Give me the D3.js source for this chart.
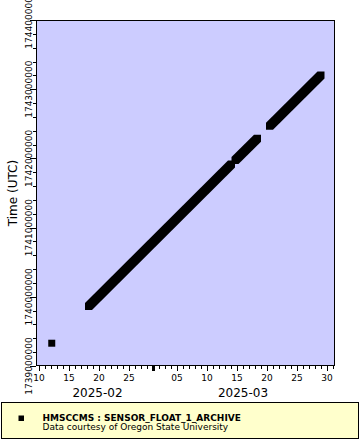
<!DOCTYPE html>
<html>
<head>
<meta charset="utf-8">
<script src="https://cdn.jsdelivr.net/npm/d3@7"></script>
<style>
  html, body { margin: 0; padding: 0; background: #ffffff; }
  svg { display: block; }
  text { font-family: "DejaVu Sans", sans-serif; }
</style>
</head>
<body>
<svg id="chart" width="360" height="440"></svg>
<script>
// ---- data ----
// runs of consecutive records (start and end time, UTC); y value equals the record time
const runStart = ["2025-02-12T03:00:00Z", "2025-02-18T06:00:00Z", "2025-03-14T16:00:00Z", "2025-03-20T10:00:00Z"];
const runEnd   = ["2025-02-12T03:00:00Z", "2025-03-14T02:00:00Z", "2025-03-18T10:00:00Z", "2025-03-29T00:00:00Z"];
const xDomain = ["2025-02-09T12:00:00Z", "2025-03-31T08:00:00Z"];
const yDomain = [1739000000, 1744000000];
const yMajorStep = 1000000;
const yMinorStep = 200000;
const monthLabels = ["2025-02", "2025-03"];
const monthLabelAt = ["2025-02-19T18:00:00Z", "2025-03-16T00:00:00Z"];
const yTitle = "Time (UTC)";
const legendTitle = "HMSCCMS : SENSOR_FLOAT_1_ARCHIVE";
const legendNote = "Data courtesy of Oregon State University";

// ---- layout ----
const W = 360, H = 440;
const plot = { left: 36, right: 335, top: 20, bottom: 366 };
const marker = 7;

const svg = d3.select("#chart");
svg.append("rect").attr("width", W).attr("height", H).attr("fill", "#ffffff");

const x = d3.scaleUtc().domain(xDomain.map(d => new Date(d))).range([plot.left, plot.right]);
const y = d3.scaleLinear().domain(yDomain).range([plot.bottom, plot.top]);

// plot background
svg.append("rect")
  .attr("x", plot.left).attr("y", plot.top)
  .attr("width", plot.right - plot.left).attr("height", plot.bottom - plot.top)
  .attr("fill", "#ccccff");

// data runs: square markers swept along each run
const clip = svg.append("clipPath").attr("id", "pc").append("rect")
  .attr("x", plot.left).attr("y", plot.top)
  .attr("width", plot.right - plot.left).attr("height", plot.bottom - plot.top);

const runs = runStart.map((s, i) => ({ t0: new Date(s), t1: new Date(runEnd[i]) }));
const h = marker / 2;
svg.append("g").attr("clip-path", "url(#pc)")
  .selectAll("polygon").data(runs).join("polygon")
  .attr("fill", "#000000")
  .attr("points", d => {
    const x0 = x(d.t0), y0 = y(d.t0.getTime() / 1000);
    const x1 = x(d.t1), y1 = y(d.t1.getTime() / 1000);
    return [[x0 - h, y0 + h], [x0 - h, y0 - h], [x1 - h, y1 - h], [x1 + h, y1 - h], [x1 + h, y1 + h], [x0 + h, y0 + h]]
      .map(p => p.join(",")).join(" ");
  });

// frame
svg.append("rect")
  .attr("x", plot.left + 0.5).attr("y", plot.top + 0.5)
  .attr("width", plot.right - plot.left - 1).attr("height", plot.bottom - plot.top - 1)
  .attr("fill", "none").attr("stroke", "#000").attr("stroke-width", 1);

// ---- x axis ----
const gx = svg.append("g");
const days = d3.utcDay.range(x.domain()[0], x.domain()[1]);
gx.selectAll("line.minor").data(days).join("line")
  .attr("x1", d => Math.round(x(d)) + 0.5).attr("x2", d => Math.round(x(d)) + 0.5)
  .attr("y1", plot.bottom).attr("y2", d => d.getUTCDate() === 1 ? plot.bottom + 5 : (d.getUTCDate() % 5 === 0 ? plot.bottom + 5 : plot.bottom + 3))
  .attr("stroke", "#000")
  .attr("stroke-width", d => d.getUTCDate() === 1 ? 3 : 1);
const fmtDay = d3.utcFormat("%d");
gx.selectAll("text.tick").data(days.filter(d => d.getUTCDate() % 5 === 0)).join("text")
  .attr("x", d => x(d)).attr("y", 381)
  .attr("text-anchor", "middle").attr("font-size", 9).attr("fill", "#000")
  .text(d => fmtDay(d));
gx.selectAll("text.month").data(monthLabels).join("text")
  .attr("x", (d, i) => x(new Date(monthLabelAt[i]))).attr("y", 397)
  .attr("text-anchor", "middle").attr("font-size", 12).attr("fill", "#000")
  .text(d => d);

// ---- y axis ----
const gy = svg.append("g");
const minorTicks = d3.range(yDomain[0], yDomain[1] + 1, yMinorStep);
gy.selectAll("line").data(minorTicks).join("line")
  .attr("y1", d => Math.round(y(d)) + 0.5).attr("y2", d => Math.round(y(d)) + 0.5)
  .attr("x1", d => (d - yDomain[0]) % yMajorStep === 0 ? plot.left - 6 : plot.left - 3)
  .attr("x2", plot.left)
  .attr("stroke", "#000").attr("stroke-width", 1);
const majorTicks = d3.range(yDomain[0], yDomain[1] + 1, yMajorStep);
gy.selectAll("text").data(majorTicks).join("text")
  .attr("transform", d => `translate(32,${y(d)}) rotate(-90)`)
  .attr("text-anchor", "middle").attr("font-size", 9).attr("fill", "#000")
  .text(d => d3.format("d")(d));
svg.append("text")
  .attr("transform", `translate(17,${(plot.top + plot.bottom) / 2}) rotate(-90)`)
  .attr("text-anchor", "middle").attr("font-size", 12).attr("fill", "#000")
  .text(yTitle);

// ---- legend ----
const lg = svg.append("g");
lg.append("rect").attr("x", 1.5).attr("y", 402.5).attr("width", 357).attr("height", 36)
  .attr("fill", "#ffffcc").attr("stroke", "#000").attr("stroke-width", 1);
lg.append("rect").attr("x", 18.5).attr("y", 415.5).attr("width", 5.5).attr("height", 5.5).attr("fill", "#000");
lg.append("text").attr("x", 42.5).attr("y", 421).attr("font-size", 9).attr("font-weight", "bold").text(legendTitle);
lg.append("text").attr("x", 42.5).attr("y", 430).attr("font-size", 9).text(legendNote);
</script>
</body>
</html>
